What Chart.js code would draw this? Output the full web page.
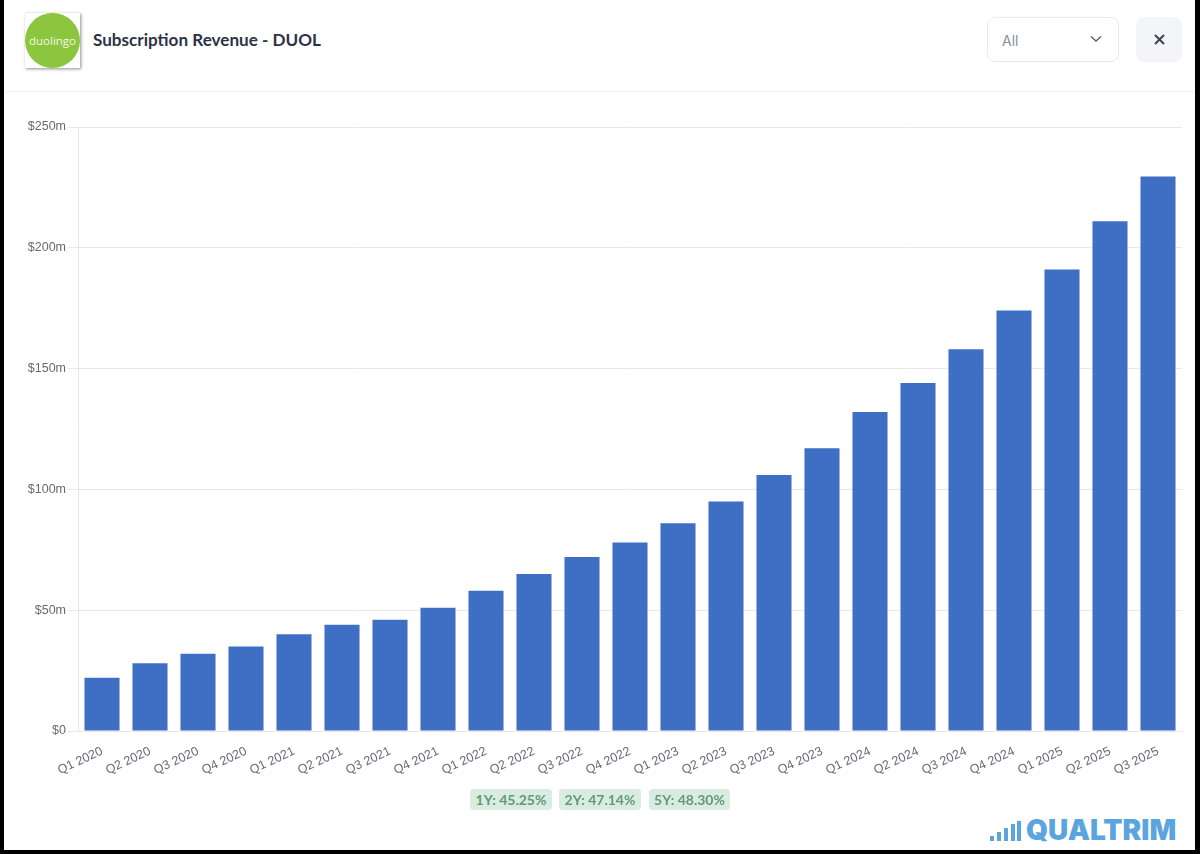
<!DOCTYPE html>
<html>
<head>
<meta charset="utf-8">
<title>Subscription Revenue - DUOL</title>
<script src="https://cdn.jsdelivr.net/npm/chart.js@4/dist/chart.umd.min.js"></script>
<style>
  html, body { margin: 0; height: 854px; background: #000; overflow: hidden; }
  #panel { position: absolute; left: 4px; top: 0; width: 1191px; height: 850px; background: #fff; }
  #headerLine { position: absolute; left: 4px; top: 91px; width: 1191px; height: 1px; background: #f0f0f2; }
  #logo { position: absolute; left: 25px; top: 13px; width: 55px; height: 55px; background: #fff; box-shadow: 1px 1px 3px rgba(0,0,0,.45); }
  #logoCircle { width: 55px; height: 55px; border-radius: 50%; background: #8cc63f; color: #f2f8e6; font: 500 11.5px/55px "Open Sans", sans-serif; text-align: center; }
  #title { position: absolute; left: 93px; top: 29px; font: 700 17.1px/21px Lato, sans-serif; color: #2d3345; }
  #select { position: absolute; left: 987px; top: 17px; width: 130px; height: 43px; border: 1px solid #e8eaef; border-radius: 8px; font: 400 14px/45px Inter, sans-serif; color: #8b8f9c; text-indent: 14px; }
  #select svg { position: absolute; left: 102px; top: 17px; }
  #close { position: absolute; left: 1136px; top: 17px; width: 46px; height: 45px; background: #f4f5f8; border-radius: 8px; }
  #close svg { position: absolute; left: 18px; top: 17px; }
  #chartWrap { position: absolute; left: 0; top: 100px; width: 1200px; height: 700px; }
  .pill { position: absolute; top: 789px; height: 21px; background: #d9ece1; border-radius: 4px; font: 700 14px/21px Lato, sans-serif; color: #659878; text-align: center; }
  #brand { position: absolute; left: 1026px; top: 813px; font: 900 28px/34px Inter, sans-serif; color: #5ba4e0; letter-spacing: 0; }
  .sig { position: absolute; width: 4px; background: #5ba4e0; bottom: 13px; }
</style>
</head>
<body>
<div id="panel"></div>
<div id="headerLine"></div>
<div id="logo"><div id="logoCircle">duolingo</div></div>
<div id="title">Subscription Revenue - DUOL</div>
<div id="select">All
  <svg width="12" height="8" viewBox="0 0 12 8"><path d="M1 1.5 L6 6 L11 1.5" fill="none" stroke="#5b6070" stroke-width="1.4"/></svg>
</div>
<div id="close">
  <svg width="11" height="11" viewBox="0 0 11 11"><path d="M1 1 L10 10 M10 1 L1 10" stroke="#3d4354" stroke-width="2"/></svg>
</div>
<div id="chartWrap"><canvas id="revenueChart" width="1200" height="700"></canvas></div>
<div class="pill" style="left:470px;width:82px">1Y: 45.25%</div>
<div class="pill" style="left:559px;width:82px">2Y: 47.14%</div>
<div class="pill" style="left:649px;width:81px">5Y: 48.30%</div>
<div class="sig" style="left:990px;height:5px"></div>
<div class="sig" style="left:997px;height:9px"></div>
<div class="sig" style="left:1004px;height:13px"></div>
<div class="sig" style="left:1011px;height:17px"></div>
<div class="sig" style="left:1017px;height:20px"></div>
<div id="brand">QUALTRIM</div>
<script>
const quarters = ['Q1 2020', 'Q2 2020', 'Q3 2020', 'Q4 2020', 'Q1 2021', 'Q2 2021', 'Q3 2021', 'Q4 2021',
  'Q1 2022', 'Q2 2022', 'Q3 2022', 'Q4 2022', 'Q1 2023', 'Q2 2023', 'Q3 2023', 'Q4 2023',
  'Q1 2024', 'Q2 2024', 'Q3 2024', 'Q4 2024', 'Q1 2025', 'Q2 2025', 'Q3 2025'];
const revenue = [22, 28, 32, 35, 40, 44, 46, 51, 58, 65, 72, 78, 86, 95, 106, 117, 132, 144, 158, 174, 191, 211, 229.5];

new Chart(document.getElementById('revenueChart'), {
  type: 'bar',
  data: {
    labels: quarters,
    datasets: [{
      label: 'Subscription Revenue',
      data: revenue,
      backgroundColor: '#3f6fc4',
      barPercentage: 0.73,
      categoryPercentage: 1
    }]
  },
  options: {
    responsive: false,
    animation: false,
    layout: { padding: { top: 27, right: 18 } },
    plugins: { legend: { display: false }, tooltip: { enabled: false } },
    scales: {
      x: {
        afterFit: (scale) => { scale.height = 69; },
        grid: { display: false },
        border: { color: '#e6e6e6' },
        ticks: {
          autoSkip: false,
          minRotation: 25,
          maxRotation: 25,
          padding: 5,
          color: '#666a75',
          font: { family: 'Liberation Sans', size: 12.5 }
        }
      },
      y: {
        min: 0,
        max: 250,
        afterFit: (scale) => { scale.width = 78; },
        grid: { color: '#e8e8e8', tickLength: 10 },
        border: { color: '#e6e6e6' },
        ticks: {
          stepSize: 50,
          padding: 2,
          color: '#666a75',
          font: { family: 'Liberation Sans', size: 12.5 },
          callback: (v) => v === 0 ? '$0' : '$' + v + 'm'
        }
      }
    }
  }
});
</script>
</body>
</html>
